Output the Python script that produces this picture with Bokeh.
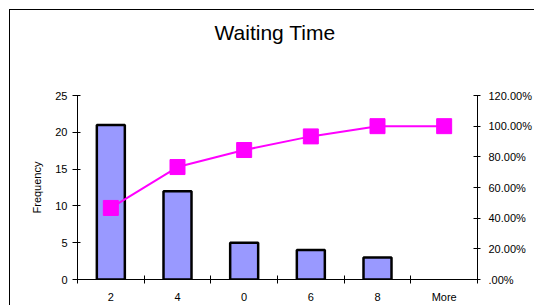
from bokeh.plotting import figure
from bokeh.models import Range1d, LinearAxis, FixedTicker, Title, ColumnDataSource
from bokeh.embed import file_html
from bokeh.resources import INLINE

# ---- data ----
categories = ["2", "4", "0", "6", "8", "More"]
frequency = [21, 12, 5, 4, 3, 0]
cumulative_pct = [46.67, 73.33, 84.44, 93.33, 100.0, 100.0]
left_ticks = [0, 5, 10, 15, 20, 25]
right_ticks = [0, 20, 40, 60, 80, 100, 120]
right_tick_labels = [".00%", "20.00%", "40.00%", "60.00%", "80.00%", "100.00%", "120.00%"]

FONT = "Liberation Sans"
BAR = "#9999FF"
LINE = "#FF00FF"

n = len(categories)
centers = [i + 0.5 for i in range(n)]
outline_alpha = [1.0 if v > 0 else 0.0 for v in frequency]
src = ColumnDataSource(dict(x=centers, top=frequency, pct=cumulative_pct, la=outline_alpha))

title = Title(text="Waiting Time", align="left", vertical_align="top",
              text_font=FONT, text_font_size="21px",
              text_color="black", text_font_style="normal", standoff=0, offset=137)

p = figure(frame_width=400, frame_height=184, output_backend="svg", toolbar_location=None,
           x_range=Range1d(0, n), y_range=Range1d(0, 25), title=title,
           min_border_left=67, min_border_right=57, min_border_top=85, min_border_bottom=20)
p.margin = (9, 0, 0, 9)
p.outline_line_color = None
p.xgrid.visible = False
p.ygrid.visible = False
p.background_fill_color = "white"
p.border_fill_color = "white"
p.styles = {"border-left": "1px solid black", "border-top": "1px solid black"}

# spacer between the title and the plot area
spacer = Title(text=" ", text_font=FONT, text_font_size="10px", standoff=37)
p.add_layout(spacer, "above")

p.extra_y_ranges = {"pct": Range1d(0, 120)}

p.vbar(x="x", top="top", bottom=0, width=0.42, source=src,
       fill_color=BAR, line_color="black", line_width=2.5, line_alpha="la")
p.line(x="x", y="pct", source=src, y_range_name="pct", line_color=LINE, line_width=2)
p.scatter(x="x", y="pct", source=src, y_range_name="pct", marker="square",
          size=15, fill_color=LINE, line_color=LINE)

# bottom axis
xa = p.xaxis[0]
xa.ticker = FixedTicker(ticks=centers, minor_ticks=list(range(n + 1)))
xa.major_label_overrides = {c: lab for c, lab in zip(centers, categories)}
xa.major_tick_in = 0
xa.major_tick_out = 0
xa.minor_tick_in = 4
xa.minor_tick_out = 4
xa.major_label_standoff = 7

# left axis
ya = p.yaxis[0]
ya.ticker = FixedTicker(ticks=left_ticks, minor_ticks=[])
ya.major_tick_in = 3
ya.major_tick_out = 5
ya.major_label_standoff = 5
ya.axis_label = "Frequency"
ya.axis_label_standoff = 9
ya.axis_label_text_font_style = "normal"

# right axis
ra = LinearAxis(y_range_name="pct",
                ticker=FixedTicker(ticks=right_ticks, minor_ticks=[]),
                major_label_overrides={t: l for t, l in zip(right_ticks, right_tick_labels)})
ra.major_tick_in = 4
ra.major_tick_out = 3
ra.major_label_standoff = 8
p.add_layout(ra, "right")

for ax in [xa, ya, ra]:
    ax.major_label_text_font = FONT
    ax.major_label_text_font_size = "11px"
    ax.major_label_text_color = "black"
    ax.axis_label_text_font = FONT
    ax.axis_label_text_font_size = "11px"
    ax.axis_label_text_color = "black"
    ax.axis_line_color = "black"
    ax.major_tick_line_color = "black"
    ax.minor_tick_line_color = "black"

open("out.html", "w").write(file_html(p, INLINE))
